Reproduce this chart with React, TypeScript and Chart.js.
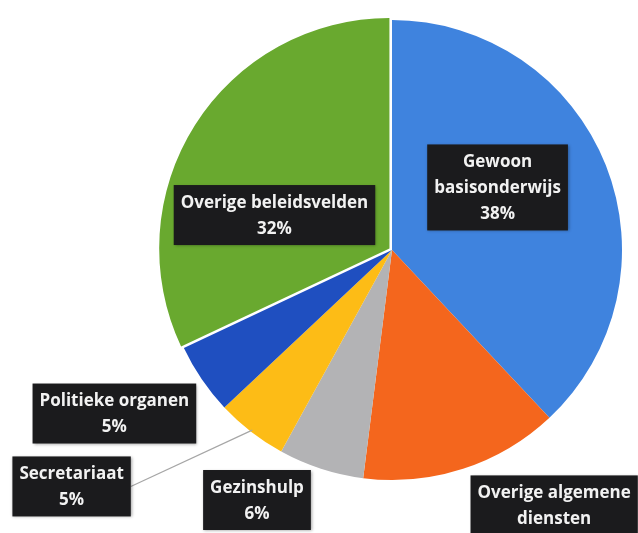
import React, { useEffect, useRef } from "react";
import { Chart, registerables } from "chart.js";

Chart.register(...registerables);

const categories = [
  "Gewoon basisonderwijs",
  "Overige algemene diensten",
  "Gezinshulp",
  "Secretariaat",
  "Politieke organen",
  "Overige beleidsvelden",
];
const shares = [38, 14, 6, 5, 5, 32];
const sliceColors = ["#3F83DE", "#F4661D", "#B3B3B5", "#FDBC16", "#1F4FC0", "#69A92F"];
const sliceOffsets = [0, 0, 0, 0, 0, 12];

// label box centre relative to the pie centre, in units of the pie radius; wrap = max text width (px)
const labelLayout = [
  { dx: 0.459, dy: -0.272, wrap: 140, leader: false },
  { dx: 0.705, dy: 1.167, wrap: 190, leader: false },
  { dx: -0.587, dy: 1.087, wrap: 250, leader: false },
  { dx: -1.393, dy: 1.028, wrap: 250, leader: true },
  { dx: -1.207, dy: 0.711, wrap: 250, leader: false },
  { dx: -0.511, dy: -0.152, wrap: 250, leader: false },
];

const FONT = "bold 17px 'Open Sans'";
const LINE_H = 26;
const PAD_X = 7;
const PAD_Y = 4;

function wrapText(ctx: CanvasRenderingContext2D, text: string, maxW: number): string[] {
  const words = text.split(" ");
  const lines: string[] = [];
  let cur = "";
  for (const w of words) {
    const test = cur ? cur + " " + w : w;
    if (cur && ctx.measureText(test).width > maxW) {
      lines.push(cur);
      cur = w;
    } else {
      cur = test;
    }
  }
  if (cur) lines.push(cur);
  return lines;
}

const labelPlugin = {
  id: "boxLabels",
  afterDraw(chart: any) {
    const ctx: CanvasRenderingContext2D = chart.ctx;
    const meta = chart.getDatasetMeta(0);
    const ds = chart.data.datasets[0];
    const labels = chart.data.labels as string[];
    meta.data.forEach((arc: any, i: number) => {
      const p = arc.getProps(["x", "y", "outerRadius", "startAngle", "endAngle"], true);
      const lay = labelLayout[i];
      const cx = p.x + lay.dx * p.outerRadius;
      const cy = p.y + lay.dy * p.outerRadius;
      ctx.save();
      ctx.font = FONT;
      const lines = wrapText(ctx, labels[i], lay.wrap);
      lines.push(ds.data[i] + "%");
      const w = Math.max(...lines.map((l) => ctx.measureText(l).width)) + PAD_X * 2;
      const h = lines.length * LINE_H + PAD_Y * 2;
      const bx = cx - w / 2;
      const by = cy - h / 2;
      if (lay.leader) {
        const a = (p.startAngle + p.endAngle) / 2;
        const px = p.x + Math.cos(a) * (p.outerRadius - 2);
        const py = p.y + Math.sin(a) * (p.outerRadius - 2);
        ctx.strokeStyle = "#A6A6A6";
        ctx.lineWidth = 1.2;
        ctx.beginPath();
        ctx.moveTo(bx + w, cy);
        ctx.lineTo(px, py);
        ctx.stroke();
      }
      ctx.shadowColor = "rgba(0,0,0,0.35)";
      ctx.shadowBlur = 3;
      ctx.shadowOffsetX = 1;
      ctx.shadowOffsetY = 1;
      ctx.fillStyle = "#1B1B1D";
      ctx.fillRect(bx, by, w, h);
      ctx.shadowColor = "transparent";
      ctx.fillStyle = "#F2F2F2";
      ctx.textAlign = "center";
      ctx.textBaseline = "middle";
      lines.forEach((l, k) => {
        ctx.fillText(l, cx, by + PAD_Y + LINE_H * k + LINE_H / 2 + 1);
      });
      ctx.restore();
    });
  },
};

export default function App() {
  const ref = useRef<HTMLCanvasElement | null>(null);
  useEffect(() => {
    if (!ref.current) return;
    const chart = new Chart(ref.current, {
      type: "pie",
      data: {
        labels: categories,
        datasets: [
          {
            data: shares,
            backgroundColor: sliceColors,
            offset: sliceOffsets,
            borderWidth: 0,
          },
        ],
      },
      options: {
        responsive: false,
        animation: false,
        layout: { padding: { left: 156, top: 14, right: 10, bottom: 47 } },
        plugins: {
          legend: { display: false },
          tooltip: { enabled: false },
        },
      },
      plugins: [labelPlugin],
    });
    return () => chart.destroy();
  }, []);
  return (
    <canvas
      ref={ref}
      width={638}
      height={533}
      style={{ position: "absolute", left: 0, top: 0, width: 638, height: 533, background: "#fff" }}
    />
  );
}
